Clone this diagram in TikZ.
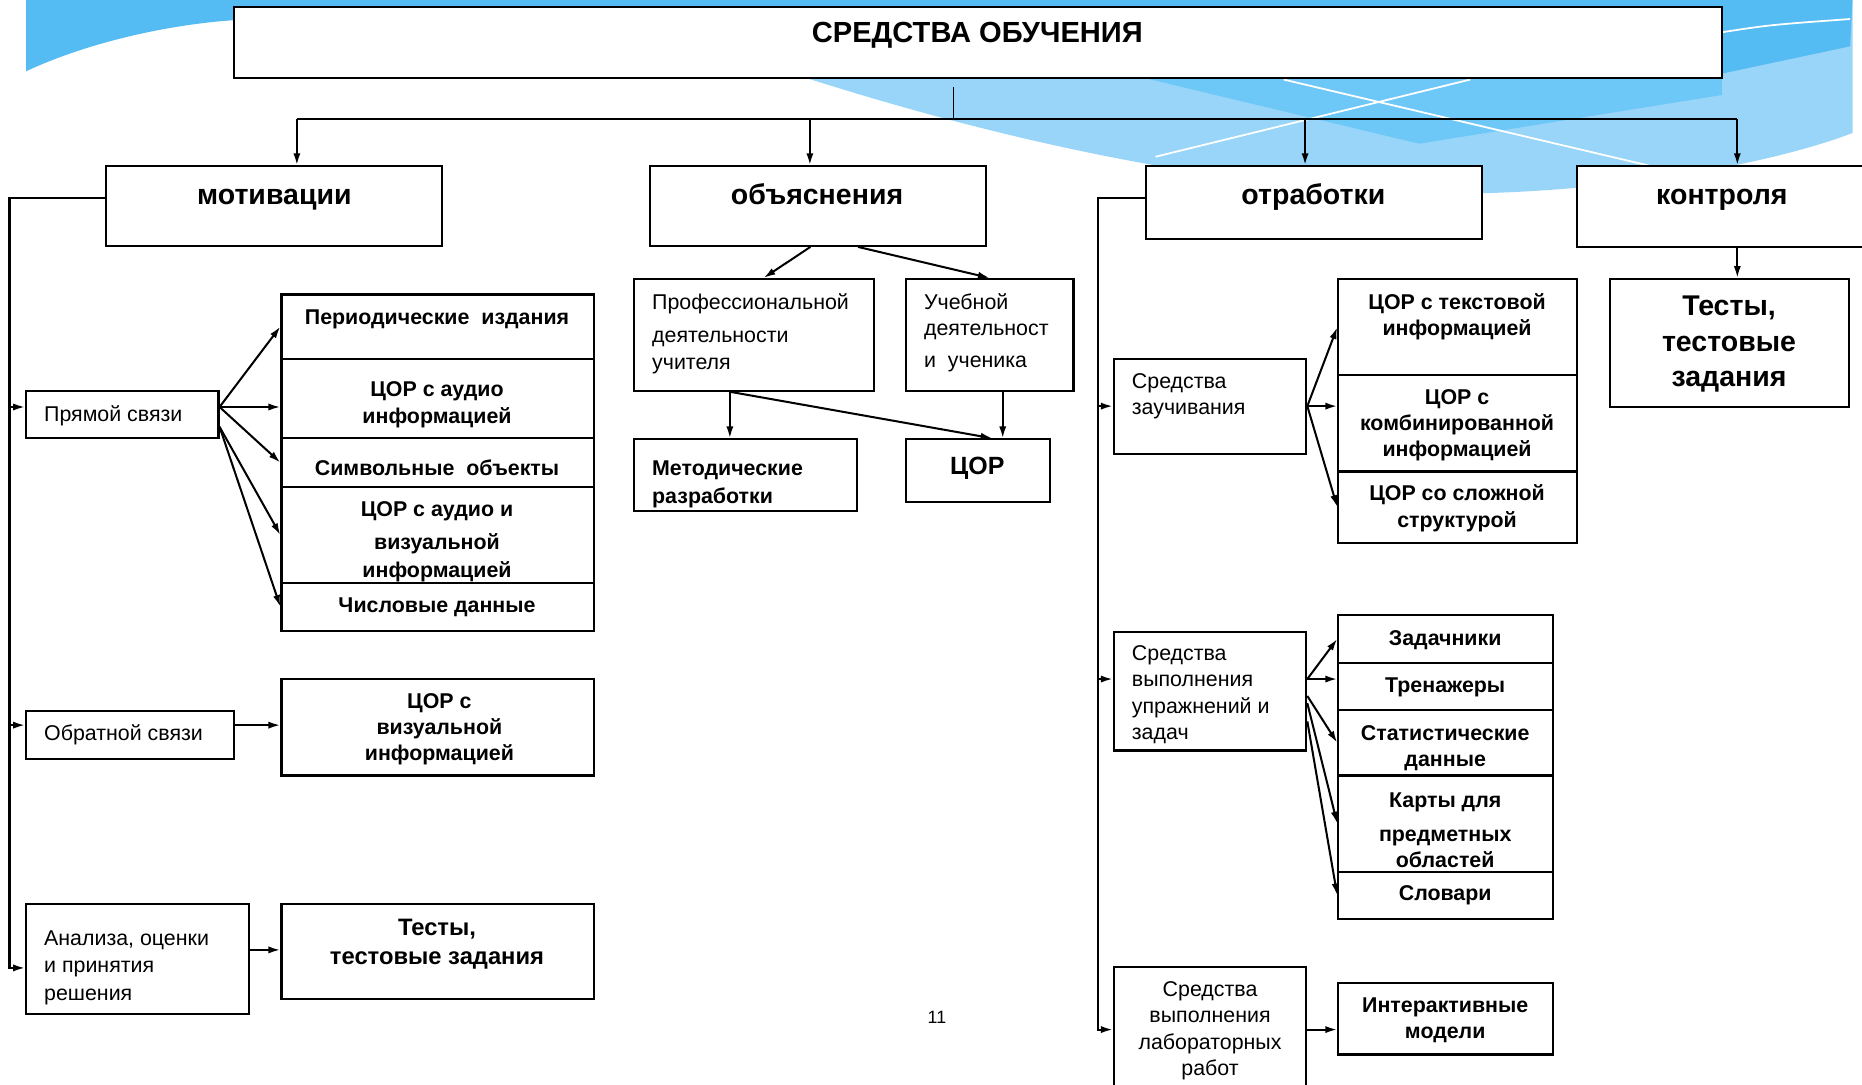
\documentclass[tikz,border=0pt]{standalone}
\usepackage{fontspec}
\setmainfont{Liberation Sans}
\usetikzlibrary{arrows.meta,fit,calc}
\definecolor{bgdark}{HTML}{55BBF3}
\definecolor{bgmid}{HTML}{6EC8F7}
\definecolor{bglight}{HTML}{98D5F8}

\begin{document}
\begin{tikzpicture}[x=1pt, y=-1pt,
  box/.style={draw, line width=1.8pt, inner sep=0pt},
  txt/.style={font=\fontsize{18}{23}\selectfont, inner sep=0pt, align=left, yshift=-3pt},
  txtb/.style={font=\bfseries\fontsize{18}{23}\selectfont, inner sep=0pt, align=center, yshift=-3pt},
  cat/.style={font=\bfseries\fontsize{24}{30}\selectfont, inner sep=0pt, align=center},
  arr/.style={-{Latex[length=10pt,width=6pt]}, line width=1.7pt},
  bus/.style={line width=1.8pt}]
  \clip (0,0) rectangle (1568,913);
  \fill[white] (0,0) rectangle (1568,913);
  \fill[bglight] (680,66) .. controls (850,120) and (1050,165) .. (1238,163)
    .. controls (1380,160) and (1500,135) .. (1560,112) -- (1560,0) -- (680,0) -- cycle;
  \fill[bgmid] (965,66) -- (1195,121) -- (1450,80) -- (1450,66) -- cycle;
  \fill[bgdark] (22,0) -- (22,60) .. controls (80,33) and (150,20) .. (197,17)
    -- (1450,62) -- (1558,39) -- (1560,0) -- cycle;
  \draw[white, line width=1.5pt] (973,132) -- (1238,67);
  \draw[white, line width=1.5pt] (1081,67) -- (1395,141);
  \draw[white, line width=1.5pt] (1451,27) .. controls (1490,21) .. (1558,16);

  \node[box, fill=white, fit={(197,6) (1450,66)}] (title) {};
  \node[cat, anchor=base, font=\bfseries\fontsize{24.5}{30}\selectfont] (titleT) at (823,36) {СРЕДСТВА ОБУЧЕНИЯ};

  \node[box, fill=white, fit={(89,140) (372,207)}] (mot) {};
  \node[box, fill=white, fit={(547,140) (830,207)}] (obj) {};
  \node[box, fill=white, fit={(965,140) (1248,201)}] (otr) {};
  \node[box, fill=white, fit={(1328,140) (1580,208)}] (kon) {};
  \node[cat, anchor=base] (motT) at (231,172) {мотивации};
  \node[cat, anchor=base] (objT) at (688,172) {объяснения};
  \node[cat, anchor=base] (otrT) at (1106,172) {отработки};
  \node[cat, anchor=base] (konT) at (1450,172) {контроля};

  \coordinate (stub) at (803,73);
  \coordinate (busC) at (803,100);
  \coordinate (busL) at (250,100);
  \coordinate (busR) at (1463,100);
  \draw[line width=1pt] (stub) -- (busC);
  \draw[bus] (busL) -- (busR);
  \foreach \x/\n in {250/mot,682/obj,1099/otr,1463/kon}
    \draw[arr] (\x,100) -- (\x,100 |- \n.north);

  % motivation branch
  \node[box, fit={(22,329) (184,369)}] (pryam) {};
  \node[txt, anchor=west] (pryamT) at (37,347) {Прямой связи};
  \node[box, fit={(237,248) (500,302)}] (per) {};
  \node[box, fit={(237,302) (500,369)}] (audio) {};
  \node[box, fit={(237,369) (500,410)}] (simv) {};
  \node[box, fit={(237,410) (500,491)}] (audvis) {};
  \node[box, fit={(237,491) (500,531)}] (chisl) {};
  \node[txtb] (perT) at (368,266) {Периодические\ \ издания};
  \node[txtb] (audioT) at (368,338) {ЦОР с аудио\\информацией};
  \node[txtb] (simvT) at (368,391) {Символьные\ \ объекты};
  \node[txtb] (audvisT) at (368,453) {ЦОР с аудио и\\[5pt]визуальной\\информацией};
  \node[txtb] (chislT) at (368,508) {Числовые данные};
  \node[box, fit={(22,599) (197,639)}] (obrat) {};
  \node[txt, anchor=west] (obratT) at (37,616) {Обратной связи};
  \node[box, fit={(237,572) (500,653)}] (vis) {};
  \node[txtb, font=\bfseries\fontsize{18}{22}\selectfont] (visT) at (370,611) {ЦОР с\\визуальной\\информацией};
  \node[box, fit={(22,761) (210,854)}] (anal) {};
  \node[txt, anchor=west] (analT) at (37,812) {Анализа, оценки\\и принятия\\решения};
  \node[box, fit={(237,761) (500,841)}] (testl) {};
  \node[txtb, font=\bfseries\fontsize{20}{25}\selectfont] (testlT) at (368,792) {Тесты,\\тестовые задания};

  \coordinate (lb) at (8,0);
  \coordinate (pryamW) at ($(pryam.north west)!0.35!(pryam.south west)$);
  \coordinate (pryamE) at ($(pryam.north east)!0.35!(pryam.south east)$);
  \coordinate (pryamE2) at ($(pryam.north east)!0.75!(pryam.south east)$);
  \coordinate (obratW) at ($(obrat.north west)!0.3!(obrat.south west)$);
  \coordinate (obratE) at ($(obrat.north east)!0.3!(obrat.south east)$);
  \coordinate (analW) at ($(anal.north west)!0.58!(anal.south west)$);
  \coordinate (analE) at ($(anal.north east)!0.42!(anal.south east)$);
  \coordinate (motW) at ($(mot.north west)!0.4!(mot.south west)$);
  \draw[arr] (motW) -| (analW -| lb) -- (analW);
  \draw[arr] (pryamW -| lb) -- (pryamW);
  \draw[arr] (obratW -| lb) -- (obratW);
  \draw[arr] (pryamE) -- (per.west);
  \draw[arr] (pryamE) -- (pryamE -| audio.west);
  \draw[arr] (pryamE) -- (simv.west);
  \draw[arr] (pryamE2) -- (audvis.west);
  \draw[arr] (pryamE2) -- (chisl.west);
  \draw[arr] (obratE) -- (obratE -| vis.west);
  \draw[arr] (analE) -- (analE -| testl.west);

  % explanation branch
  \node[box, fit={(534,235) (736,329)}] (prof) {};
  \node[txt, anchor=west] (profT) at (549,278) {Профессиональной\\[5pt]деятельности\\учителя};
  \node[box, fit={(763,235) (904,329)}] (ucheb) {};
  \node[txt, anchor=west, font=\fontsize{18}{22}\selectfont] (uchebT) at (778,277) {Учебной\\деятельност\\[5pt]и\ \ ученика};
  \node[box, fit={(534,370) (722,430)}] (metod) {};
  \node[txtb, align=left, anchor=west] (metodT) at (549,405) {Методические\\разработки};
  \node[box, fit={(763,370) (884,423)}] (cor) {};
  \node[txtb, font=\bfseries\fontsize{21}{25}\selectfont] (corT) at (823,391) {ЦОР};
  \coordinate (pfoot) at ($(prof.south west)!0.4!(prof.south east)$);
  \coordinate (cin1) at ($(cor.north west)!0.6!(cor.north east)$);
  \coordinate (cin2) at ($(cor.north west)!0.67!(cor.north east)$);
  \draw[arr] ($(obj.south)+(-6,0)$) -- ($(prof.north)+(8,0)$);
  \draw[arr] ($(obj.south)+(34,0)$) -- (ucheb.north);
  \draw[arr] (pfoot) -- (pfoot |- metod.north);
  \draw[arr] (pfoot) -- (cin1);
  \draw[arr] (cin2 |- ucheb.south) -- (cin2);

  % practice branch
  \node[box, fit={(938,302) (1100,382)}] (zauch) {};
  \node[txt, anchor=west, font=\fontsize{18}{22}\selectfont] (zauchT) at (953,331) {Средства\\заучивания};
  \node[box, fit={(1127,235) (1328,316)}] (textc) {};
  \node[box, fit={(1127,316) (1328,397)}] (komb) {};
  \node[box, fit={(1127,397) (1328,457)}] (slozh) {};
  \node[txtb, font=\bfseries\fontsize{18}{22}\selectfont] (textcT) at (1227,264) {ЦОР с текстовой\\информацией};
  \node[txtb, font=\bfseries\fontsize{18}{22}\selectfont] (kombT) at (1227,355) {ЦОР с\\комбинированной\\информацией};
  \node[txtb, font=\bfseries\fontsize{18}{22}\selectfont] (slozhT) at (1227,425) {ЦОР со сложной\\структурой};
  \node[box, fit={(938,532) (1100,632)}] (upr) {};
  \node[txt, anchor=west, font=\fontsize{18}{22}\selectfont] (uprT) at (953,582) {Средства\\выполнения\\упражнений и\\задач};
  \node[box, fit={(1127,518) (1308,558)}] (zad) {};
  \node[box, fit={(1127,558) (1308,598)}] (tren) {};
  \node[box, fit={(1127,598) (1308,653)}] (stat) {};
  \node[box, fit={(1127,653) (1308,734)}] (kart) {};
  \node[box, fit={(1127,734) (1308,774)}] (slov) {};
  \node[txtb] (zadT) at (1217,536) {Задачники};
  \node[txtb] (trenT) at (1217,576) {Тренажеры};
  \node[txtb, font=\bfseries\fontsize{18}{22}\selectfont] (statT) at (1217,627) {Статистические\\данные};
  \node[txtb, font=\bfseries\fontsize{18}{22}\selectfont] (kartT) at (1217,696) {Карты для\\[7pt]предметных\\областей};
  \node[txtb] (slovT) at (1217,751) {Словари};
  \node[box, fit={(938,814) (1100,920)}] (lab) {};
  \node[txt, align=center, font=\fontsize{18}{22}\selectfont] (labT) at (1019,865) {Средства\\выполнения\\лабораторных\\работ};
  \node[box, fit={(1127,828) (1308,888)}] (inter) {};
  \node[txtb, font=\bfseries\fontsize{18}{22}\selectfont] (interT) at (1217,856) {Интерактивные\\модели};

  \coordinate (rb) at (925,0);
  \coordinate (otrW) at ($(otr.north west)!0.44!(otr.south west)$);
  \coordinate (uprW) at ($(upr.north west)!0.4!(upr.south west)$);
  \coordinate (uprE) at ($(upr.north east)!0.4!(upr.south east)$);
  \coordinate (uprE2) at ($(upr.north east)!0.54!(upr.south east)$);
  \coordinate (uprE3) at ($(upr.north east)!0.6!(upr.south east)$);
  \coordinate (uprE4) at ($(upr.north east)!0.75!(upr.south east)$);
  \draw[arr] (otrW) -| (lab.west -| rb) -- (lab.west);
  \draw[arr] (zauch.west -| rb) -- (zauch.west);
  \draw[arr] (uprW -| rb) -- (uprW);
  \draw[arr] (zauch.east) -- (textc.west);
  \draw[arr] (zauch.east) -- (zauch.east -| komb.west);
  \draw[arr] (zauch.east) -- (slozh.west);
  \draw[arr] (uprE) -- (zad.west);
  \draw[arr] (uprE) -- (uprE -| tren.west);
  \draw[arr] (uprE2) -- (stat.west);
  \draw[arr] (uprE3) -- (kart.west);
  \draw[arr] (uprE4) -- (slov.west);
  \draw[arr] (lab.east) -- (lab.east -| inter.west);

  % control branch
  \node[box, fit={(1356,235) (1557,343)}] (testr) {};
  \node[cat, yshift=-3pt] (testrT) at (1456,287) {Тесты,\\тестовые\\задания};
  \coordinate (konS) at (kon.south -| busR);
  \draw[arr] (konS) -- (konS |- testr.north);

  \node[font=\fontsize{15}{18}\selectfont, inner sep=0pt] (page) at (789,857) {11};
\end{tikzpicture}
\end{document}
